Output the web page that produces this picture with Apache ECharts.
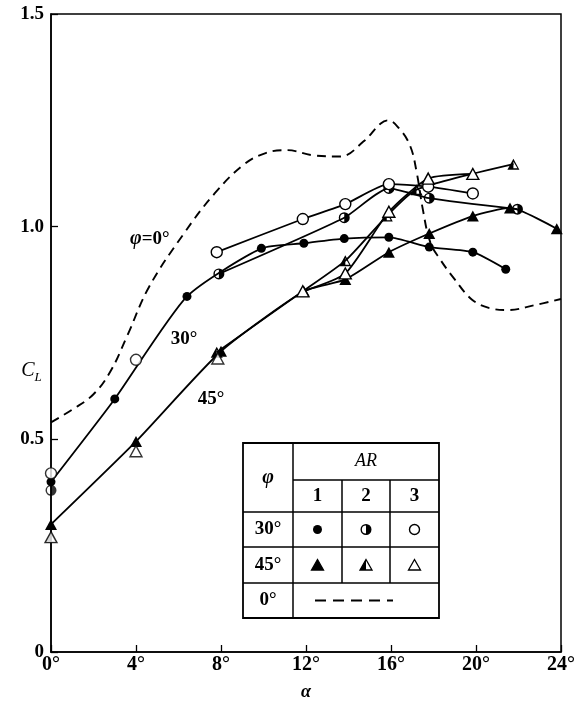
<!DOCTYPE html>
<html><head><meta charset="utf-8">
<script src="https://cdn.jsdelivr.net/npm/echarts@6/dist/echarts.min.js"></script>
<style>html,body{margin:0;padding:0;background:#fff}#c{width:578px;height:706px}</style>
</head><body><div id="c"></div>
<script>
// ---- data (alpha in degrees, C_L) ----
const xTicks = [0, 4, 8, 12, 16, 20, 24];
const yTickLabels = {0: '0', 0.5: '0.5', 1: '1.0', 1.5: '1.5'};

// phi = 0 deg (dashed reference curve)
const phi0 = [[0,0.54],[1,0.57],[2,0.606],[2.8,0.66],[3.6,0.745],[4.6,0.857],[6.2,0.98],[7.7,1.078],[9.1,1.147],[10.1,1.173],[11.1,1.18],[12.3,1.168],[13.6,1.165],[14.7,1.20],[15.5,1.242],[15.85,1.25],[16.4,1.23],[16.9,1.19],[17.2,1.13],[17.5,1.04],[17.85,0.963],[18.3,0.924],[19,0.876],[19.8,0.829],[20.6,0.809],[21.5,0.804],[22.8,0.816],[24,0.83]];

// phi = 30 deg
const p30ar1Curve = [[0,0.40],[3,0.595],[6.4,0.836],[9.9,0.949],[11.9,0.961],[13.8,0.972],[15.9,0.975],[17.8,0.952],[19.85,0.940],[21.4,0.90]];
const p30ar2Points = [[0,0.38]];
const p30ar2Curve = [[7.9,0.889],[13.8,1.021],[15.9,1.09],[17.8,1.067],[21.95,1.041]];
const p30ar3Points = [[0,0.42],[4,0.687]];
const p30ar3Curve = [[7.8,0.940],[11.85,1.018],[13.85,1.053],[15.9,1.10],[17.75,1.094],[19.85,1.078]];

// phi = 45 deg
const p45ar1Curve = [[0,0.30],[4,0.495],[8,0.707],[11.9,0.848],[13.85,0.876],[15.9,0.94],[17.8,0.984],[19.85,1.025],[21.6,1.044],[23.8,0.995]];
const p45ar2Points = [[0,0.27]];
const p45ar2Curve = [[7.8,0.705],[11.85,0.848],[13.85,0.92],[15.8,1.025],[17.2,1.087],[21.76,1.147]];
const p45ar3Points = [[0,0.27],[4,0.472],[7.85,0.69]];
const p45ar3Curve = [[11.85,0.848],[13.85,0.89],[15.9,1.035],[17.75,1.113],[19.85,1.124]];

// ---- styles ----
const HALF_CIRCLE_D = 'M10,0A10,10,0,1,1,10,20A10,10,0,1,1,10,0Z M10,2.6A7.4,7.4,0,1,0,10,17.4A7.4,7.4,0,1,0,10,2.6Z M10,2.6A7.4,7.4,0,0,1,10,17.4Z';
const HALF_TRI_D = 'M10,0L20,18L0,18Z M10,4.6L3.3,15.7L16.7,15.7Z M10,4.6L3.3,15.7L10,15.7Z';

const marks = {
  fc: {symbol: 'circle', symbolSize: 9, itemStyle: {color: '#000'}},
  hc: {symbol: 'path://' + HALF_CIRCLE_D, symbolSize: 11, itemStyle: {color: '#000'}},
  oc: {symbol: 'circle', symbolSize: 11, itemStyle: {color: '#fff', borderColor: '#000', borderWidth: 1.4}},
  ft: {symbol: 'triangle', symbolSize: [12, 11], itemStyle: {color: '#000'}},
  ht: {symbol: 'path://' + HALF_TRI_D, symbolSize: [12, 11], itemStyle: {color: '#000'}},
  ot: {symbol: 'triangle', symbolSize: [12, 11], itemStyle: {color: '#fff', borderColor: '#000', borderWidth: 1.4}}
};

function curve(data, m) {
  return Object.assign({type: 'line', data: data, smooth: 0.2, clip: false, showAllSymbol: true,
    lineStyle: {color: '#000', width: 1.8}, z: 3}, marks[m]);
}
function pts(data, m) {
  return Object.assign({type: 'scatter', data: data, clip: false, z: 4}, marks[m]);
}

const serif = '"Liberation Serif","DejaVu Serif",serif';
const chart = echarts.init(document.getElementById('c'), null, {renderer: 'canvas'});

// legend table (graphic)
const T = {l: 243, r: 439, t: 443, b: 618, c1: 293, c2: 342, c3: 390, h1: 480, h2: 512, h3: 547, h4: 583};
const ln = (x1, y1, x2, y2, w, dash) => ({type: 'line', z: 20, shape: {x1, y1, x2, y2}, style: {stroke: '#000', lineWidth: w || 1.5, lineDash: dash || null}});
const tx = (text, x, y, font) => ({type: 'text', z: 21, style: {text, x, y, textAlign: 'center', textVerticalAlign: 'middle', font: font || ('bold 19px ' + serif), fill: '#000'}});
const rowY30 = (T.h2 + T.h3) / 2, rowY45 = (T.h3 + T.h4) / 2;
const colX = [(T.c1 + T.c2) / 2, (T.c2 + T.c3) / 2, (T.c3 + T.r) / 2];
const tri = (cx, cy, fill) => ({type: 'polygon', z: 21, shape: {points: [[cx, cy - 5.5], [cx + 6, cy + 5], [cx - 6, cy + 5]]}, style: {fill, stroke: '#000', lineWidth: 1.3}});

const graphic = [
  {type: 'rect', z: 19, shape: {x: T.l, y: T.t, width: T.r - T.l, height: T.b - T.t}, style: {fill: '#fff', stroke: '#000', lineWidth: 1.8}},
  ln(T.c1, T.t, T.c1, T.b),
  ln(T.c1, T.h1, T.r, T.h1),
  ln(T.l, T.h2, T.r, T.h2),
  ln(T.l, T.h3, T.r, T.h3),
  ln(T.l, T.h4, T.r, T.h4),
  ln(T.c2, T.h1, T.c2, T.h4),
  ln(T.c3, T.h1, T.c3, T.h4),
  tx('φ', (T.l + T.c1) / 2, (T.t + T.h2) / 2, 'italic bold 20px ' + serif),
  tx('AR', (T.c1 + T.r) / 2, (T.t + T.h1) / 2, 'italic 18px ' + serif),
  tx('1', colX[0], (T.h1 + T.h2) / 2),
  tx('2', colX[1], (T.h1 + T.h2) / 2),
  tx('3', colX[2], (T.h1 + T.h2) / 2),
  tx('30°', (T.l + T.c1) / 2, rowY30),
  tx('45°', (T.l + T.c1) / 2, rowY45),
  tx('0°', (T.l + T.c1) / 2, (T.h4 + T.b) / 2),
  {type: 'circle', z: 21, shape: {cx: colX[0], cy: rowY30, r: 4.5}, style: {fill: '#000'}},
  {type: 'circle', z: 21, shape: {cx: colX[1], cy: rowY30, r: 4.8}, style: {fill: '#fff', stroke: '#000', lineWidth: 1.4}},
  {type: 'sector', z: 22, shape: {cx: colX[1], cy: rowY30, r0: 0, r: 4.8, startAngle: -Math.PI / 2, endAngle: Math.PI / 2}, style: {fill: '#000'}},
  {type: 'circle', z: 21, shape: {cx: colX[2], cy: rowY30, r: 5}, style: {fill: '#fff', stroke: '#000', lineWidth: 1.4}},
  tri(colX[0], rowY45, '#000'),
  tri(colX[1], rowY45, '#fff'),
  {type: 'polygon', z: 22, shape: {points: [[colX[1], rowY45 - 5.5], [colX[1], rowY45 + 5], [colX[1] - 6, rowY45 + 5]]}, style: {fill: '#000'}},
  tri(colX[2], rowY45, '#fff'),
  ln(315, (T.h4 + T.b) / 2, 393, (T.h4 + T.b) / 2, 2, [11, 7]),
  // curve labels
  {type: 'text', z: 10, style: {text: '{a|φ}{b|=0°}', x: 130, y: 239, textVerticalAlign: 'middle',
    rich: {a: {font: 'italic bold 20px ' + serif, fill: '#000'}, b: {font: 'bold 19px ' + serif, fill: '#000'}}}},
  tx('30°', 184, 339),
  tx('45°', 211, 399),
  // axis title C_L
  {type: 'text', z: 10, style: {text: 'C', x: 28, y: 371, textAlign: 'center', textVerticalAlign: 'middle', font: 'italic 20px ' + serif, fill: '#000'}},
  {type: 'text', z: 10, style: {text: 'L', x: 38, y: 378, textAlign: 'center', textVerticalAlign: 'middle', font: 'italic 13px ' + serif, fill: '#000'}}
];

chart.setOption({
  animation: false,
  backgroundColor: '#fff',
  grid: {left: 51, right: 12, top: 14, bottom: 41, show: true, borderColor: '#000', borderWidth: 1.5, containLabel: false},
  xAxis: {
    type: 'value', min: xTicks[0], max: xTicks[xTicks.length - 1], interval: 4,
    name: 'α', nameLocation: 'middle', nameGap: 31,
    nameTextStyle: {fontFamily: serif, fontStyle: 'italic', fontWeight: 'bold', fontSize: 18, color: '#000'},
    axisLine: {lineStyle: {color: '#000', width: 1.5}},
    axisTick: {inside: true, length: 7, lineStyle: {color: '#000', width: 1.3}},
    axisLabel: {formatter: v => v + '°', color: '#000', fontFamily: serif, fontWeight: 'bold', fontSize: 20, margin: 3},
    splitLine: {show: false}
  },
  yAxis: {
    type: 'value', min: 0, max: 1.5, interval: 0.5,
    axisLine: {lineStyle: {color: '#000', width: 1.5}},
    axisTick: {inside: true, length: 7, lineStyle: {color: '#000', width: 1.3}},
    axisLabel: {formatter: v => yTickLabels[v], color: '#000', fontFamily: serif, fontWeight: 'bold', fontSize: 19, margin: 7},
    splitLine: {show: false}
  },
  graphic: graphic,
  series: [
    {type: 'line', data: phi0, smooth: 0.4, symbol: 'none', clip: false, z: 2,
     lineStyle: {color: '#000', width: 1.9, type: [9, 6]}},
    curve(p30ar1Curve, 'fc'),
    curve(p30ar2Curve, 'hc'), pts(p30ar2Points, 'hc'),
    curve(p30ar3Curve, 'oc'), pts(p30ar3Points, 'oc'),
    curve(p45ar1Curve, 'ft'),
    curve(p45ar2Curve, 'ht'), pts(p45ar2Points, 'ht'),
    curve(p45ar3Curve, 'ot'), pts(p45ar3Points, 'ot')
  ]
});
</script>
</body></html>
